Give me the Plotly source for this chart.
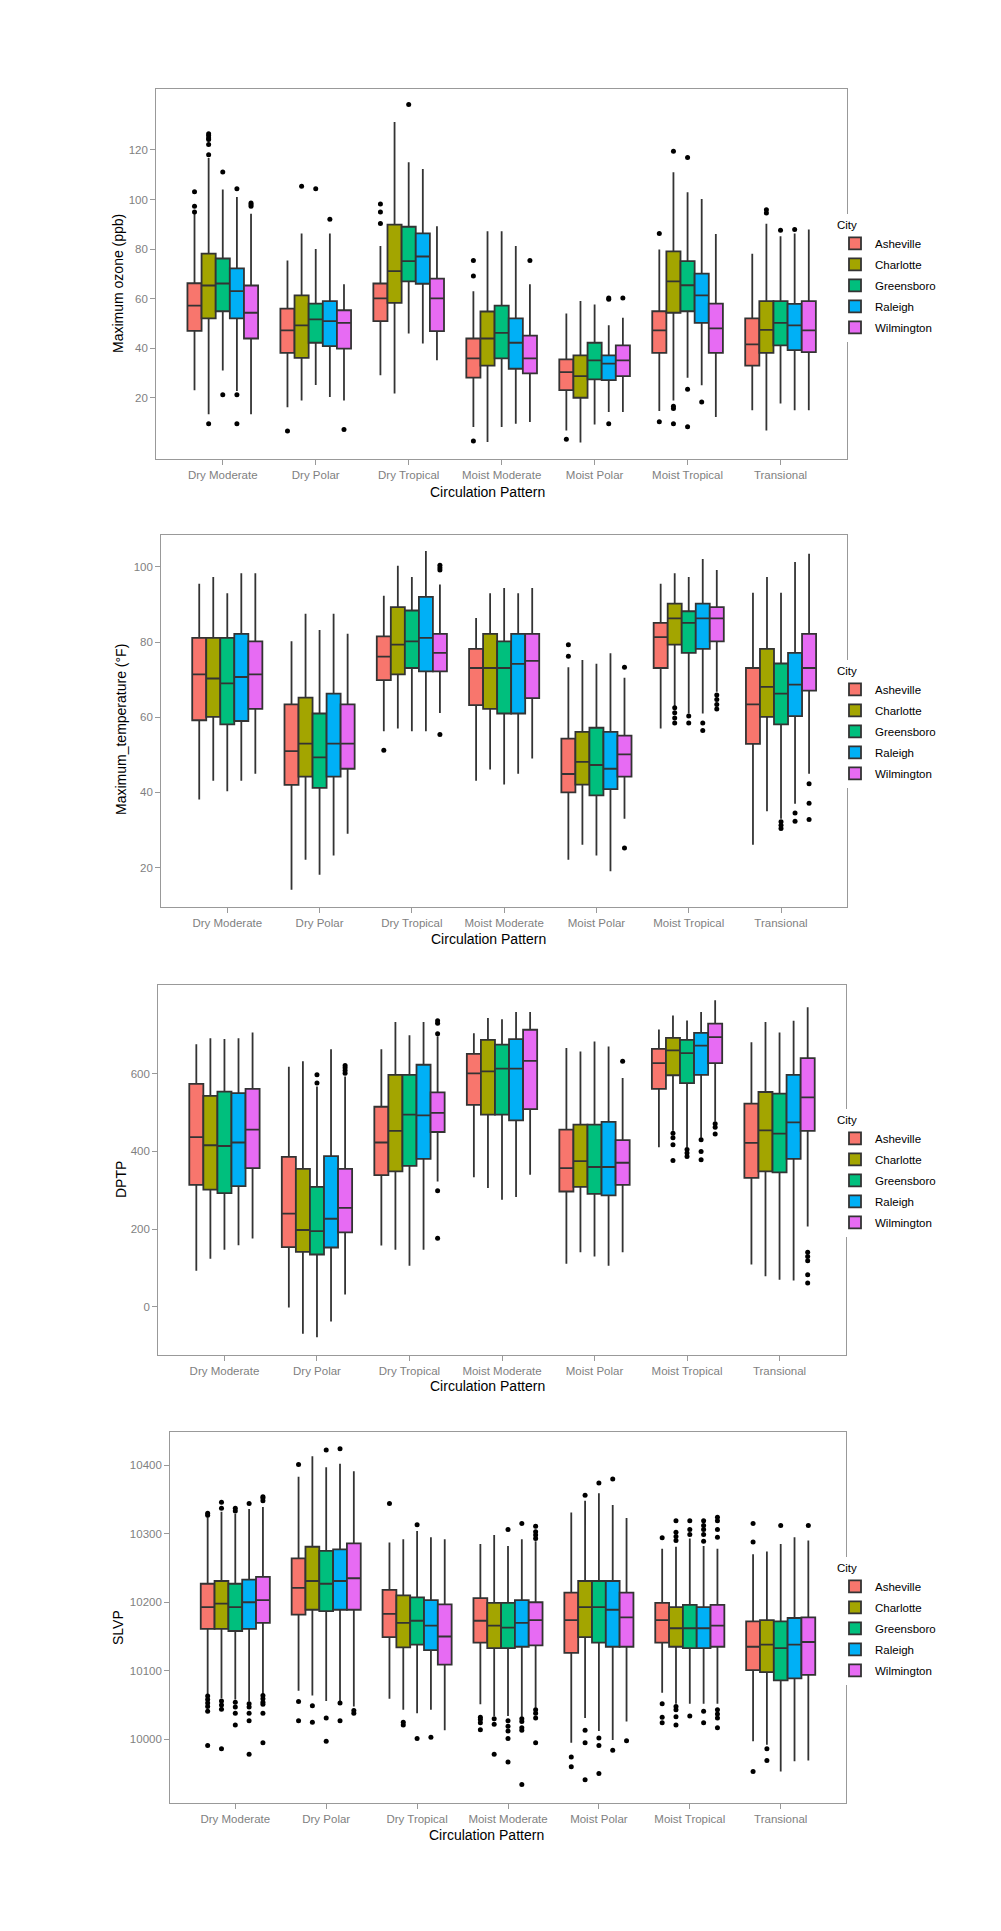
import plotly.graph_objects as go

PATTERNS = ["Dry Moderate", "Dry Polar", "Dry Tropical", "Moist Moderate",
            "Moist Polar", "Moist Tropical", "Transional"]
CITIES = ["Asheville", "Charlotte", "Greensboro", "Raleigh", "Wilmington"]
COLORS = ["#F8766D", "#A3A500", "#00BF7D", "#00B0F6", "#E76BF3"]

# ---------------- Maximum ozone (ppb) : one row per city, columns = PATTERNS
OZONE_LO = [
    [23.0, 16.2, 29.1, 8.2, 6.8, 14.6, 15.0],
    [13.3, 18.9, 21.7, 2.1, 1.9, 18.9, 6.8],
    [31.0, 25.1, 45.9, 8.2, 9.2, 28.1, 17.7],
    [22.7, 20.3, 41.9, 9.5, 14.2, 25.0, 15.0],
    [13.3, 18.9, 35.1, 10.2, 14.2, 12.2, 15.0],
]
OZONE_Q1 = [
    [47.0, 38.1, 50.9, 28.1, 23.1, 38.1, 33.0],
    [52.0, 36.1, 58.3, 33.0, 20.0, 54.3, 38.1],
    [54.9, 42.2, 67.0, 35.9, 27.4, 54.9, 41.1],
    [52.0, 40.8, 66.0, 31.7, 27.1, 50.2, 39.2],
    [43.9, 39.8, 46.9, 29.8, 28.7, 38.1, 38.4],
]
OZONE_MED = [
    [57.2, 47.2, 60.1, 35.9, 30.3, 47.2, 41.5],
    [65.3, 49.2, 71.1, 43.9, 28.7, 67.0, 47.4],
    [66.1, 51.6, 75.1, 46.2, 35.1, 65.4, 50.2],
    [63.0, 50.9, 77.0, 42.2, 33.8, 61.3, 49.2],
    [54.3, 50.2, 60.1, 35.9, 35.1, 48.0, 47.2],
]
OZONE_Q3 = [
    [66.2, 56.0, 66.1, 43.9, 35.5, 54.9, 52.0],
    [78.2, 61.3, 89.9, 54.8, 37.1, 79.1, 59.0],
    [76.2, 58.0, 89.0, 57.2, 42.2, 75.1, 59.0],
    [72.2, 59.0, 86.3, 52.0, 37.1, 70.1, 57.9],
    [65.3, 55.3, 68.1, 45.1, 41.1, 58.0, 59.0],
]
OZONE_HI = [
    [94.3, 75.4, 81.2, 63.0, 54.0, 79.8, 78.1],
    [116.8, 86.3, 131.3, 87.2, 59.0, 111.0, 90.2],
    [104.0, 80.0, 115.0, 87.2, 57.6, 102.9, 85.2],
    [101.0, 86.3, 112.3, 81.2, 49.3, 100.2, 86.3],
    [94.3, 65.8, 89.2, 65.8, 52.3, 86.1, 87.9],
]
OZONE_OUT = [
    [[95.0, 97.3, 103.1], [6.6], [90.3, 95.0, 98.2], [2.5, 69.1, 75.4], [3.2], [10.3, 86.3], []],
    [[9.5, 118.1, 122.2, 124.2, 124.8, 125.8, 126.5], [105.4], [], [], [], [9.5, 15.7, 16.6, 119.5], [94.6, 95.9]],
    [[21.2, 111.1], [104.3], [138.3], [], [], [8.3, 23.4, 117.0], [87.6]],
    [[9.5, 21.2, 104.3], [92.0], [], [], [9.5, 59.7, 60.3], [18.3], [87.9]],
    [[97.3, 98.0, 98.6], [7.2], [], [75.4], [60.3], [], []],
]
OZONE_TICKS = [20, 40, 60, 80, 100, 120]

# ---------------- Maximum temperature (°F)
TEMP_LO = [
    [38.1, 14.1, 56.3, 43.1, 22.1, 57.0, 26.1],
    [43.1, 22.1, 57.0, 46.1, 26.1, 62.9, 35.0],
    [40.3, 18.1, 56.3, 42.1, 23.2, 61.0, 33.0],
    [43.1, 23.2, 56.3, 45.0, 19.0, 61.0, 37.0],
    [45.0, 29.0, 61.1, 49.0, 33.0, 66.8, 45.0],
]
TEMP_Q1 = [
    [59.2, 42.0, 69.9, 63.2, 40.0, 73.1, 52.9],
    [60.1, 44.2, 71.4, 62.2, 42.1, 79.3, 60.1],
    [58.1, 41.2, 73.1, 61.0, 39.2, 77.1, 58.1],
    [59.0, 44.2, 72.2, 61.0, 40.9, 78.2, 60.3],
    [62.2, 46.3, 72.2, 65.1, 44.2, 80.2, 67.1],
]
TEMP_MED = [
    [71.4, 51.0, 76.1, 73.1, 44.9, 81.3, 63.4],
    [70.3, 53.0, 79.3, 73.1, 48.1, 86.3, 68.1],
    [69.0, 49.3, 80.2, 73.1, 47.3, 85.1, 66.3],
    [70.7, 53.0, 81.1, 74.2, 46.3, 86.3, 68.7],
    [71.4, 53.0, 77.1, 75.0, 50.1, 86.3, 73.1],
]
TEMP_Q3 = [
    [81.1, 63.4, 81.5, 78.2, 54.3, 85.1, 73.1],
    [81.1, 65.2, 89.3, 82.2, 56.1, 90.2, 78.2],
    [81.1, 61.0, 88.4, 80.2, 57.2, 88.2, 74.3],
    [82.2, 66.3, 92.0, 82.2, 56.1, 90.2, 77.1],
    [80.2, 63.4, 82.2, 82.2, 55.1, 89.3, 82.2],
]
TEMP_HI = [
    [95.5, 80.2, 92.3, 86.4, 73.3, 95.5, 93.1],
    [97.3, 87.5, 100.3, 93.0, 75.2, 98.3, 97.3],
    [93.0, 83.2, 97.3, 94.4, 74.2, 97.3, 93.1],
    [98.3, 87.5, 104.2, 93.0, 77.0, 102.1, 101.3],
    [98.3, 82.2, 95.3, 94.4, 70.5, 99.2, 103.5],
]
TEMP_OUT = [
    [[], [], [51.2], [], [76.2, 79.3], [], []],
    [[], [], [], [], [], [58.5, 59.8, 61.2, 62.5], []],
    [[], [], [], [], [], [58.5, 60.3], [30.4, 31.3, 32.2]],
    [[], [], [], [], [], [56.5, 58.5], [32.3, 34.5]],
    [[], [], [55.4, 99.2, 99.8, 100.4], [], [25.2, 73.3], [62.2, 63.4, 64.7, 65.9], [32.8, 37.1, 42.3]],
]
TEMP_TICKS = [20, 40, 60, 80, 100]

# ---------------- DPTP
DPTP_LO = [
    [93, -1, 158, 334, 111, 411, 109],
    [124, -69, 147, 306, 141, 453, 79],
    [147, -78, 106, 276, 130, 411, 70],
    [159, -37, 147, 283, 106, 435, 68],
    [176, 32, 323, 340, 141, 477, 207],
]
DPTP_Q1 = [
    [314, 154, 339, 520, 297, 561, 332],
    [302, 142, 349, 495, 309, 596, 349],
    [293, 135, 363, 495, 291, 576, 346],
    [311, 153, 381, 480, 287, 597, 381],
    [357, 192, 450, 509, 314, 627, 453],
]
DPTP_MED = [
    [437, 240, 423, 601, 357, 627, 422],
    [416, 198, 453, 606, 375, 660, 454],
    [414, 195, 495, 613, 360, 653, 446],
    [423, 227, 493, 613, 360, 672, 475],
    [456, 255, 499, 633, 371, 694, 539],
]
DPTP_Q3 = [
    [574, 386, 515, 651, 456, 664, 523],
    [543, 355, 597, 687, 469, 692, 553],
    [554, 309, 597, 675, 469, 687, 549],
    [550, 388, 623, 689, 476, 705, 597],
    [561, 355, 552, 713, 429, 729, 640],
]
DPTP_HI = [
    [676, 618, 663, 704, 666, 714, 681],
    [691, 632, 733, 743, 657, 750, 733],
    [689, 567, 699, 740, 683, 737, 706],
    [691, 663, 733, 759, 670, 759, 736],
    [706, 593, 696, 759, 589, 789, 771],
]
DPTP_OUT = [
    [[], [], [], [], [], [], []],
    [[], [], [], [], [], [377, 417, 435, 447], []],
    [[], [576, 597], [], [], [], [387, 396, 405], []],
    [[], [], [], [], [], [379, 400, 430], []],
    [[], [601, 608, 615, 621], [177, 299, 703, 730, 736], [], [632], [445, 462, 471], [62, 83, 119, 130, 141]],
]
DPTP_TICKS = [0, 200, 400, 600]

# ---------------- SLVP
SLVP_LO = [
    [10066, 10071, 10059, 10051, 9995, 10068, 9997],
    [10060, 10064, 10043, 10034, 10031, 10052, 9992],
    [10058, 10056, 10038, 10034, 10012, 10052, 9953],
    [10055, 10056, 10043, 10033, 9999, 10052, 9968],
    [10066, 10048, 10013, 10046, 10026, 10052, 9969],
]
SLVP_Q1 = [
    [10161, 10182, 10149, 10141, 10126, 10141, 10101],
    [10161, 10189, 10134, 10133, 10149, 10135, 10098],
    [10158, 10187, 10138, 10133, 10141, 10133, 10086],
    [10161, 10189, 10130, 10135, 10135, 10133, 10089],
    [10170, 10189, 10109, 10137, 10135, 10135, 10094],
]
SLVP_MED = [
    [10193, 10221, 10183, 10173, 10174, 10174, 10135],
    [10198, 10231, 10170, 10166, 10193, 10162, 10138],
    [10193, 10227, 10173, 10163, 10193, 10162, 10133],
    [10200, 10231, 10166, 10170, 10189, 10162, 10138],
    [10203, 10235, 10150, 10174, 10178, 10166, 10142],
]
SLVP_Q3 = [
    [10227, 10264, 10218, 10206, 10214, 10199, 10172],
    [10231, 10281, 10210, 10199, 10231, 10193, 10174],
    [10227, 10275, 10207, 10199, 10231, 10196, 10172],
    [10233, 10277, 10203, 10203, 10231, 10193, 10177],
    [10237, 10286, 10197, 10200, 10214, 10196, 10178],
]
SLVP_HI = [
    [10324, 10383, 10287, 10285, 10331, 10278, 10270],
    [10332, 10413, 10292, 10298, 10348, 10281, 10274],
    [10329, 10397, 10304, 10282, 10359, 10293, 10285],
    [10336, 10402, 10295, 10292, 10342, 10282, 10295],
    [10339, 10391, 10292, 10289, 10323, 10278, 10290],
]
SLVP_OUT = [
    [[9991, 10041, 10048, 10053, 10058, 10063, 10327, 10330], [10027, 10055, 10401], [10344],
     [10014, 10024, 10029, 10032], [9960, 9974], [10024, 10032, 10052, 10294], [9953, 10288, 10315]],
    [[9986, 10044, 10050, 10056, 10337, 10346], [10025, 10049], [10021, 10025], [9978, 10022, 10030],
     [9941, 9995, 10013, 10356], [10021, 10033, 10043, 10048, 10290, 10296, 10302, 10319], [9969, 9986]],
    [[10021, 10038, 10047, 10054, 10333, 10337], [9997, 10031, 10422], [10001, 10313],
     [9967, 10001, 10012, 10019, 10027, 10306], [9950, 9991, 10002, 10374], [10034, 10299, 10306, 10319], [10312]],
    [[9978, 10027, 10038, 10047, 10052, 10344], [10027, 10053, 10424], [10003],
     [9934, 10013, 10017, 10026, 10030, 10315], [9984, 10380], [10024, 10041, 10289, 10299, 10306, 10312, 10319], []],
    [[9995, 10038, 10051, 10054, 10059, 10064, 10348, 10352, 10354], [10038, 10042], [],
     [9995, 10031, 10038, 10043, 10293, 10298, 10303, 10311], [9998], [10017, 10031, 10037, 10043, 10295, 10306, 10319, 10324], [10312]],
]
SLVP_TICKS = [10000, 10100, 10200, 10300, 10400]

X_TITLE = "Circulation Pattern"

# ---------------- layout geometry (pixels in the 1001 x 1931 page)
W, H = 1001, 1931
FONT = "Liberation Sans, Arial, sans-serif"
FRAME = "#999999"
TICKTXT = "#7F7F7F"

panels = [
    dict(lo=OZONE_LO, q1=OZONE_Q1, med=OZONE_MED, q3=OZONE_Q3, hi=OZONE_HI, out=OZONE_OUT,
         ticks=OZONE_TICKS, ytitle="Maximum ozone (ppb)", yrange=[-4.6, 144.6],
         box=(148.3, 81.0, 839.0, 450.7), legend_top=206, xt=(479, 484), yt=(110, 276)),
    dict(lo=TEMP_LO, q1=TEMP_Q1, med=TEMP_MED, q3=TEMP_Q3, hi=TEMP_HI, out=TEMP_OUT,
         ticks=TEMP_TICKS, ytitle="Maximum_temperature (°F)", yrange=[9.6, 108.4],
         box=(153.3, 527.3, 839.0, 898.7), legend_top=652, xt=(480, 931), yt=(113, 722)),
    dict(lo=DPTP_LO, q1=DPTP_Q1, med=DPTP_MED, q3=DPTP_Q3, hi=DPTP_HI, out=DPTP_OUT,
         ticks=DPTP_TICKS, ytitle="DPTP", yrange=[-122.7, 828.9],
         box=(150.3, 976.7, 837.7, 1346.7), legend_top=1101, xt=(479, 1378), yt=(113, 1172)),
    dict(lo=SLVP_LO, q1=SLVP_Q1, med=SLVP_MED, q3=SLVP_Q3, hi=SLVP_HI, out=SLVP_OUT,
         ticks=SLVP_TICKS, ytitle="SLVP", yrange=[9907, 10448],
         box=(162.3, 1424.3, 837.7, 1795.0), legend_top=1549, xt=(478, 1827), yt=(110, 1620)),
]

fig = go.Figure()
layout = dict(
    width=W, height=H, autosize=False,
    margin=dict(l=0, r=0, t=0, b=0),
    paper_bgcolor="white", plot_bgcolor="white",
    boxmode="group", boxgap=0.24, boxgroupgap=0.0,
    font=dict(family=FONT, size=12, color="black"),
    showlegend=True,
)
annotations = []

for k, p in enumerate(panels):
    sfx = "" if k == 0 else str(k + 1)
    for c, city in enumerate(CITIES):
        outs = p["out"][c]
        # plotly reads a 2-D sample array only when its first row is non-empty,
        # so list the patterns that have outliers first (axis order is fixed by categoryarray)
        order = sorted(range(len(PATTERNS)), key=lambda i: len(outs[i]) == 0)
        has_pts = any(len(o) for o in outs)
        fig.add_trace(go.Box(
            x=[PATTERNS[i] for i in order],
            y=[outs[i] for i in order] if has_pts else None,
            q1=[p["q1"][c][i] for i in order],
            median=[p["med"][c][i] for i in order],
            q3=[p["q3"][c][i] for i in order],
            lowerfence=[p["lo"][c][i] for i in order],
            upperfence=[p["hi"][c][i] for i in order],
            name=city,
            orientation="v",
            fillcolor=COLORS[c],
            line=dict(color="#333333", width=1.8),
            marker=dict(color="black", size=5, line=dict(width=0)),
            boxpoints="all" if has_pts else False, jitter=0, pointpos=0,
            whiskerwidth=0,
            hoverinfo="skip",
            xaxis="x" + sfx, yaxis="y" + sfx,
            alignmentgroup=f"panel{k}", offsetgroup=city,
            legend="legend" + sfx,
            legendgroup=f"g{k}_{city}",
            showlegend=True,
        ))

    x0, y0, x1, y1 = p["box"]
    layout["xaxis" + sfx] = dict(
        domain=[x0 / W, x1 / W], anchor="y" + sfx,
        type="category", categoryorder="array", categoryarray=PATTERNS,
        range=[-0.715, 6.715],
        showline=True, mirror=True, linecolor=FRAME, linewidth=1.3,
        ticks="outside", ticklen=5, tickwidth=1.3, tickcolor=FRAME,
        tickfont=dict(family=FONT, size=11.5, color=TICKTXT),
        showgrid=False, zeroline=False, fixedrange=True,
    )
    layout["yaxis" + sfx] = dict(
        domain=[1 - y1 / H, 1 - y0 / H], anchor="x" + sfx,
        range=p["yrange"], tickmode="array", tickvals=p["ticks"], tickformat="d",
        showline=True, mirror=True, linecolor=FRAME, linewidth=1.3,
        ticks="outside", ticklen=5, tickwidth=1.3, tickcolor=FRAME,
        tickfont=dict(family=FONT, size=11.5, color=TICKTXT),
        showgrid=False, zeroline=False, fixedrange=True,
    )
    layout["legend" + sfx] = dict(
        x=827 / W, xanchor="left", y=1 - p["legend_top"] / H, yanchor="top",
        bgcolor="white", borderwidth=0,
        title=dict(text="City", font=dict(family=FONT, size=11.5, color="black")),
        font=dict(family=FONT, size=11.5, color="black"),
        tracegroupgap=2, itemclick=False, itemdoubleclick=False,
    )
    annotations.append(dict(
        text=X_TITLE, x=p["xt"][0] / W, y=1 - p["xt"][1] / H,
        xref="paper", yref="paper", xanchor="center", yanchor="middle",
        showarrow=False, font=dict(family=FONT, size=14, color="black"),
    ))
    annotations.append(dict(
        text=p["ytitle"], x=p["yt"][0] / W, y=1 - p["yt"][1] / H,
        xref="paper", yref="paper", xanchor="center", yanchor="middle",
        textangle=-90, showarrow=False, font=dict(family=FONT, size=14, color="black"),
    ))

layout["annotations"] = annotations
fig.update_layout(**layout)
fig.write_html("out.html")
